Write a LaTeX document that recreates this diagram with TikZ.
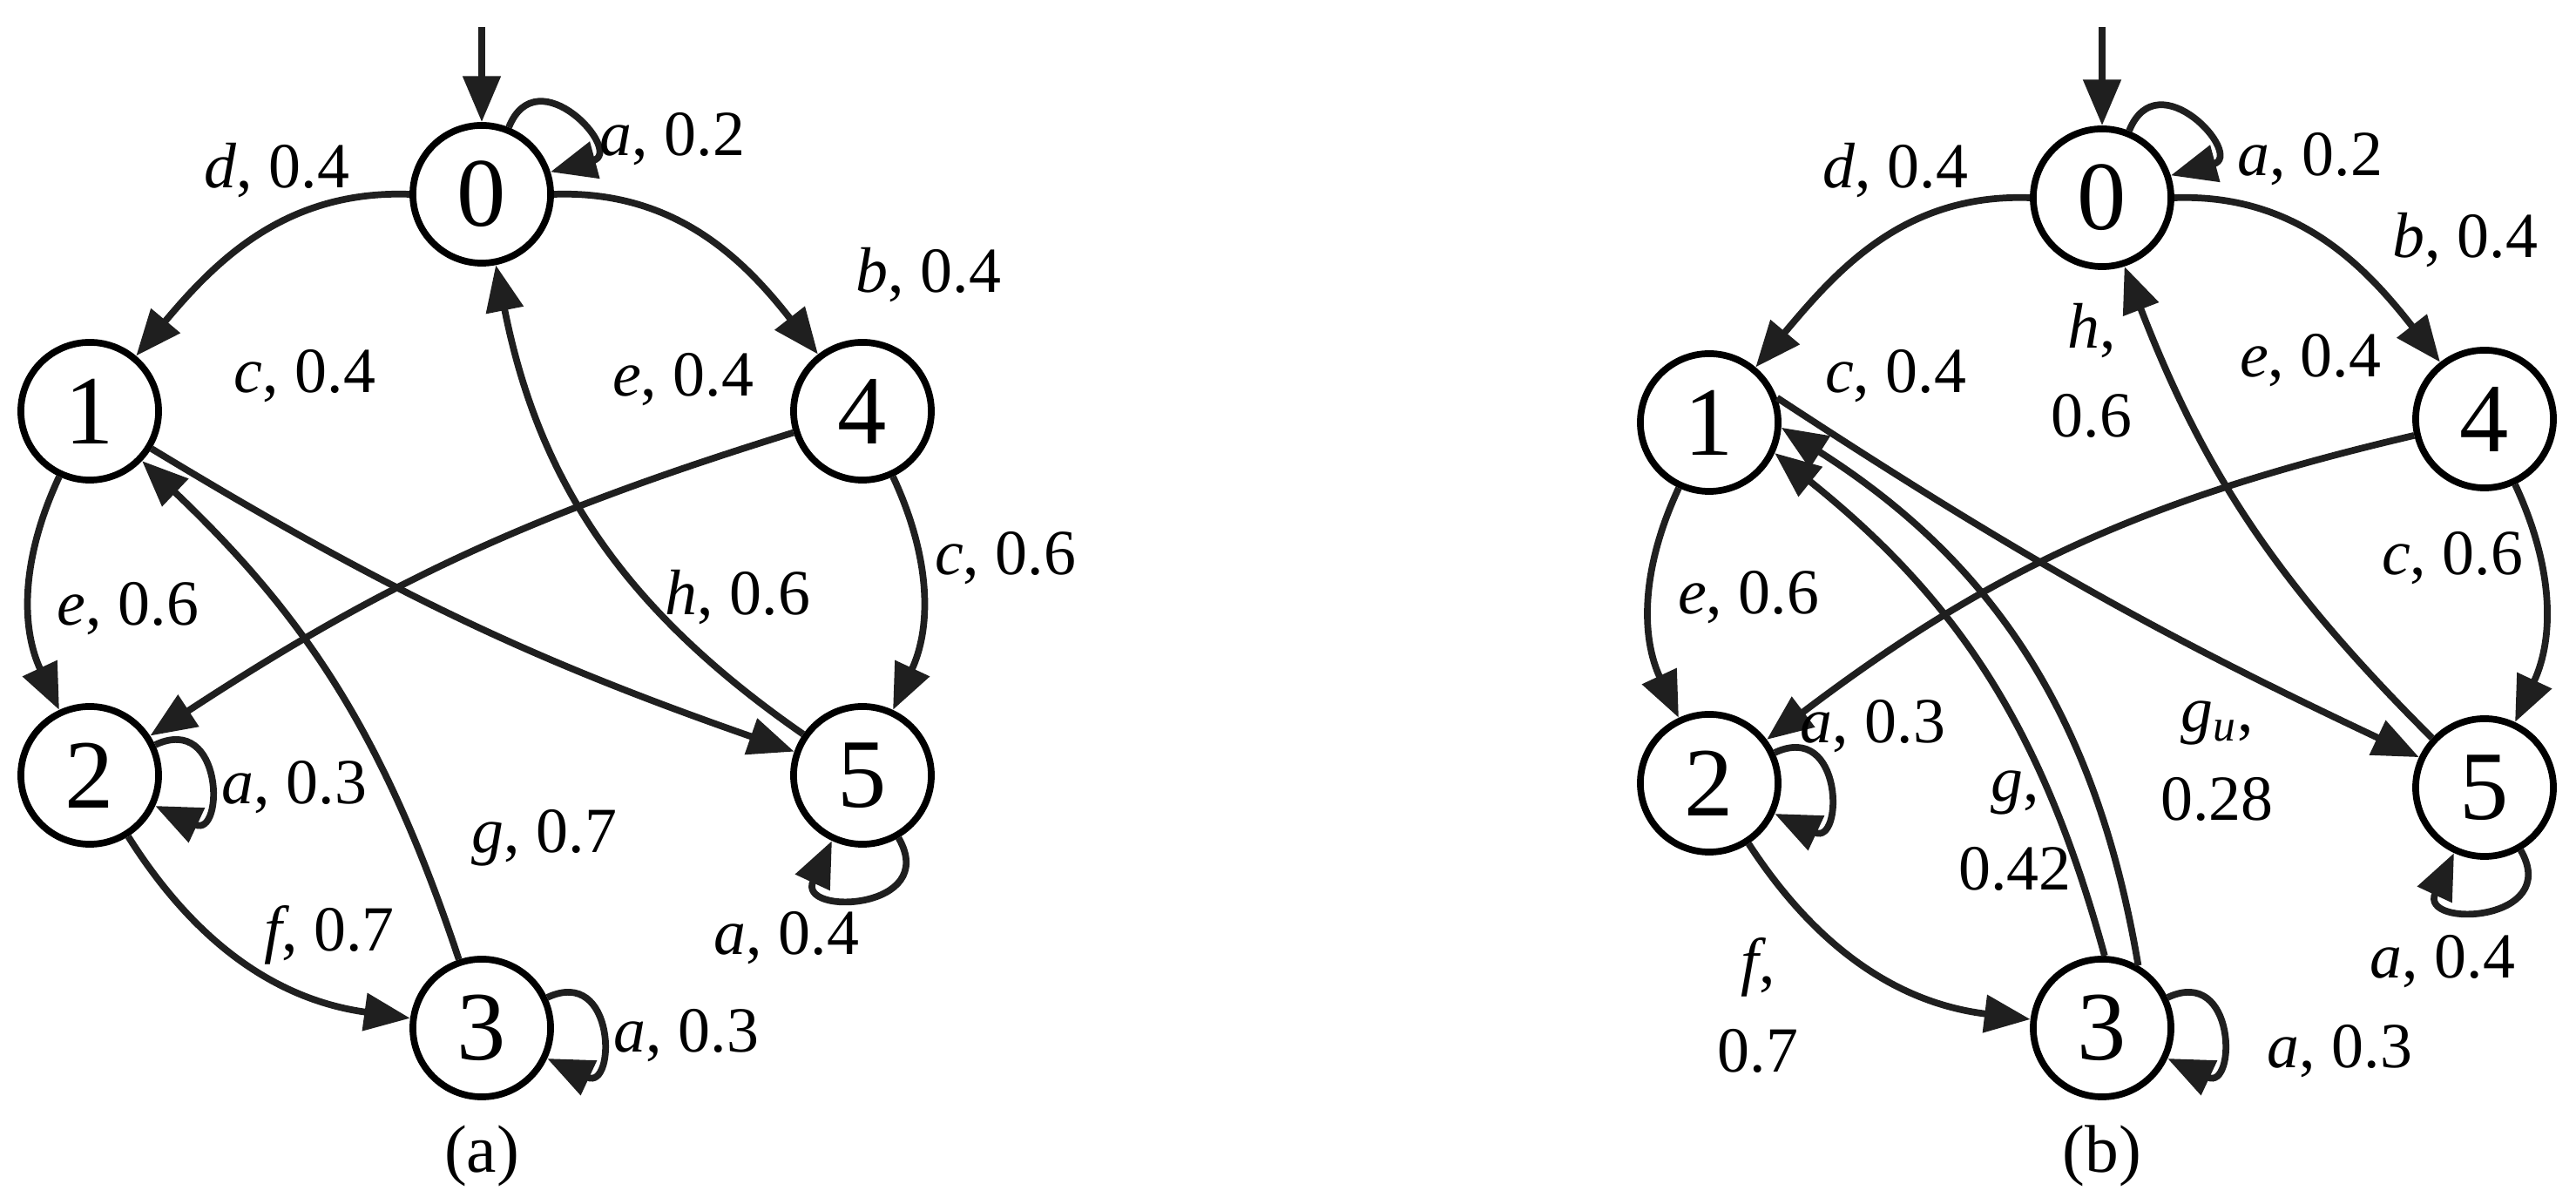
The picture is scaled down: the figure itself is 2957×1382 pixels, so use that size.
\documentclass[tikz,border=0pt]{standalone}
\usepackage{fontspec}
\setmainfont{Liberation Serif}
\usetikzlibrary{arrows.meta}
\tikzset{
  st/.style={circle,draw,line width=2.2pt,minimum size=1.58cm,inner sep=0pt,font=\fontsize{32}{32}\selectfont},
  ed/.style={line width=2.2pt,draw={black!88},-{Triangle[length=15pt,width=12pt]}},
  lb/.style={font=\fontsize{21}{25}\selectfont,inner sep=0pt,align=center},
  captxt/.style={font=\fontsize{22}{26}\selectfont}
}
\newcommand{\li}[1]{\textit{#1},}
\begin{document}
\begin{tikzpicture}[x=0.01cm,y=0.01cm]
\useasboundingbox (0,0) rectangle (2957,1382);
% ---------- (a)
\node[st] (a0) at (553,1159) {0};
\node[st] (a1) at (103,910) {1};
\node[st] (a4) at (990,910) {4};
\node[st] (a2) at (103,492) {2};
\node[st] (a5) at (990,492) {5};
\node[st] (a3) at (553,202) {3};
\node[captxt] (acap) at (553,55) {(a)};
\coordinate (ain) at (553,1351);
\draw[ed] (ain) -- (a0);
\draw[ed] (a0.west) to[out=178,in=50] (a1);
\draw[ed] (a0.east) to[out=2,in=128] (a4);
\draw[ed] (a1) to[bend right=25] (a2);
\draw[ed] (a4) to[bend left=25] (a5);
\draw[ed] (a4) to[bend right=8] (a2);
\draw[ed] (a1) to[bend right=6] (a5);
\draw[ed] (a5) to[bend left=22] (a0);
\draw[ed] (a3) to[bend right=14] (a1);
\draw[ed] (a2) to[bend right=25] (a3);
\draw[ed] (a0.68) to[out=68,in=15,looseness=3.2] (a0.18);
\draw[ed] (a2.25) to[out=25,in=-25,looseness=3.2] (a2.-25);
\draw[ed] (a3.25) to[out=25,in=-25,looseness=3.2] (a3.-25);
\draw[ed] (a5.-60) to[out=-60,in=-115,looseness=3.2] (a5.-115);
\node[lb] (la1) at (318,1186) {\li{d} 0.4};
\node[lb] (la2) at (772,1222) {\li{a} 0.2};
\node[lb] (la3) at (1066,1066) {\li{b} 0.4};
\node[lb] (la4) at (350,950) {\li{c} 0.4};
\node[lb] (la5) at (784,946) {\li{e} 0.4};
\node[lb] (la6) at (1154,741) {\li{c} 0.6};
\node[lb] (la7) at (847,696) {\li{h} 0.6};
\node[lb] (la8) at (147,683) {\li{e} 0.6};
\node[lb] (la9) at (338,478) {\li{a} 0.3};
\node[lb] (la10) at (625,420) {\li{g} 0.7};
\node[lb] (la11) at (903,305) {\li{a} 0.4};
\node[lb] (la12) at (378,309) {\li{f} 0.7};
\node[lb] (la13) at (788,193) {\li{a} 0.3};
% ---------- (b)
\node[st] (b0) at (2413,1155) {0};
\node[st] (b1) at (1962,897) {1};
\node[st] (b4) at (2852,901) {4};
\node[st] (b2) at (1962,483) {2};
\node[st] (b5) at (2852,478) {5};
\node[st] (b3) at (2413,202) {3};
\node[captxt] (bcap) at (2413,55) {(b)};
\coordinate (bin) at (2413,1351);
\draw[ed] (bin) -- (b0);
\draw[ed] (b0.west) to[out=178,in=50] (b1);
\draw[ed] (b0.east) to[out=2,in=128] (b4);
\draw[ed] (b1) to[bend right=25] (b2);
\draw[ed] (b4) to[bend left=25] (b5);
\draw[ed] (b4) to[bend right=12] (b2);
\draw[ed] (b1.20) to[bend right=4] (b5);
\draw[ed] (b5) to[bend left=12] (b0.-72);
\draw[ed] (b3.88) to[bend right=18] (b1.-25);
\draw[ed] (b3.60) to[bend right=24] (b1.-4);
\draw[ed] (b2) to[bend right=25] (b3);
\draw[ed] (b0.68) to[out=68,in=15,looseness=3.2] (b0.18);
\draw[ed] (b2.25) to[out=25,in=-25,looseness=3.2] (b2.-25);
\draw[ed] (b3.25) to[out=25,in=-25,looseness=3.2] (b3.-25);
\draw[ed] (b5.-60) to[out=-60,in=-115,looseness=3.2] (b5.-115);
\node[lb] (lb1) at (2176,1186) {\li{d} 0.4};
\node[lb] (lb2) at (2652,1199) {\li{a} 0.2};
\node[lb] (lb3) at (2830,1106) {\li{b} 0.4};
\node[lb] (lb4) at (2401,957) {\li{h}\\[4pt]0.6};
\node[lb] (lb5) at (2176,950) {\li{c} 0.4};
\node[lb] (lb6) at (2652,968) {\li{e} 0.4};
\node[lb] (lb7) at (2815,741) {\li{c} 0.6};
\node[lb] (lb8) at (2007,696) {\li{e} 0.6};
\node[lb] (lb9) at (2150,548) {\li{a} 0.3};
\node[lb] (lb10) at (2545,508) {\textit{g}\textsubscript{\textit{u}},\\[4pt]0.28};
\node[lb] (lb11) at (2313,428) {\li{g}\\[4pt]0.42};
\node[lb] (lb12) at (2018,228) {\li{f}\\[4pt]0.7};
\node[lb] (lb13) at (2804,278) {\li{a} 0.4};
\node[lb] (lb14) at (2686,175) {\li{a} 0.3};
\end{tikzpicture}
\end{document}
